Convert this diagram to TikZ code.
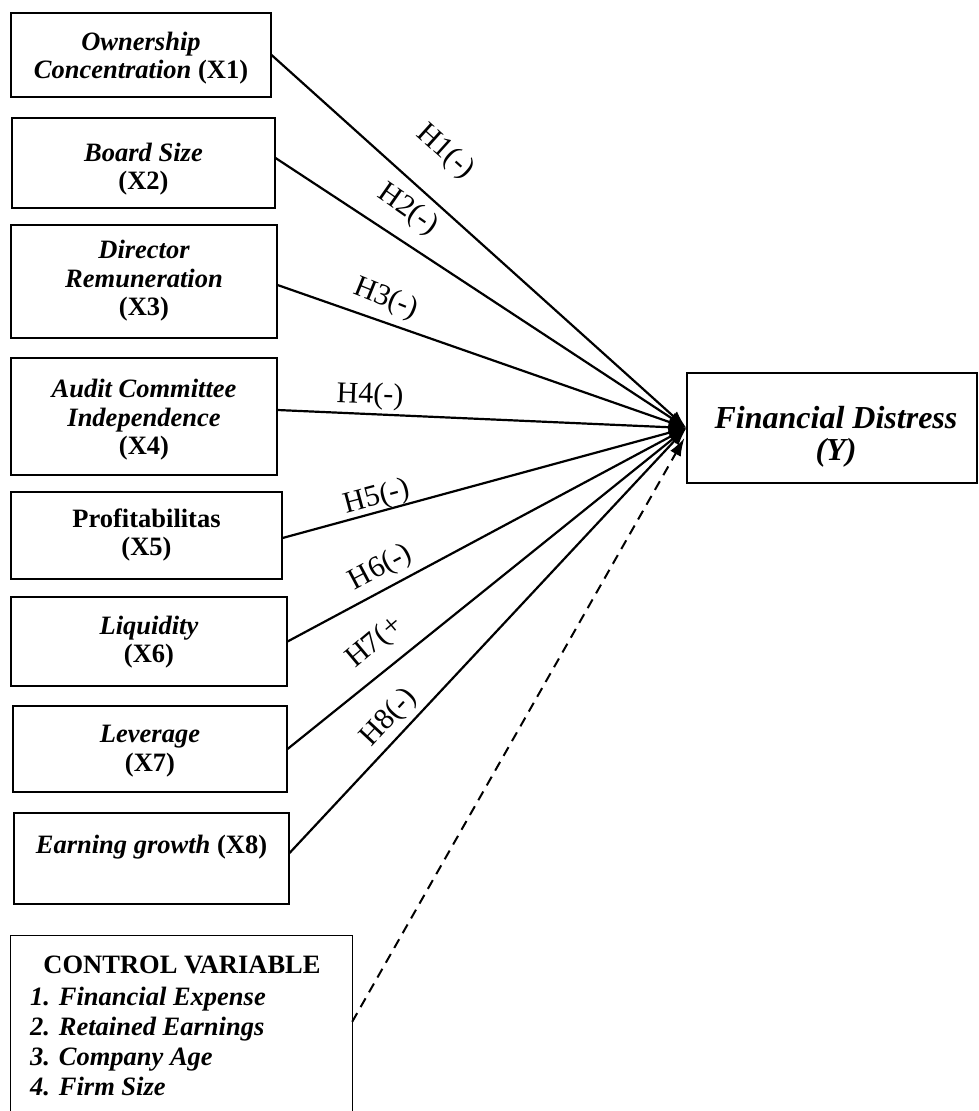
\documentclass[tikz,border=0pt]{standalone}
\usepackage{fontspec}
\setmainfont{Liberation Serif}
\usetikzlibrary{arrows.meta,calc}
\begin{document}
\begin{tikzpicture}[x=1pt,y=-1pt,
  box/.style={draw,line width=1.1pt,inner sep=0pt},
  txt/.style={font=\fontsize{26.5}{28.5}\selectfont\bfseries\itshape,align=center,inner sep=0pt},
  ytxt/.style={font=\fontsize{32}{32}\selectfont\bfseries\itshape,align=center,inner sep=0pt},
  hyp/.style={font=\fontsize{30}{30}\selectfont,inner sep=0pt},
  link/.style={line width=2.2pt,-{Latex[length=18pt,width=12pt]}},
  ctrl/.style={line width=2pt,dash pattern=on 10pt off 7pt,-{Latex[length=18pt,width=12pt]}}
]
\useasboundingbox (0,0) rectangle (978,1111);

% boxes
\node[box,minimum width=260pt,minimum height=84pt] (b1) at (141,55) {};
\node[box,minimum width=263pt,minimum height=90pt] (b2) at (143.5,163) {};
\node[box,minimum width=266pt,minimum height=113pt] (b3) at (144,281.5) {};
\node[box,minimum width=266pt,minimum height=117pt] (b4) at (144,416.5) {};
\node[box,minimum width=271pt,minimum height=87pt] (b5) at (146.5,535.5) {};
\node[box,minimum width=276pt,minimum height=89pt] (b6) at (149,641.5) {};
\node[box,minimum width=274pt,minimum height=86pt] (b7) at (150,749) {};
\node[box,minimum width=275pt,minimum height=91pt] (b8) at (151.5,858.5) {};
\node[inner sep=0pt,minimum width=341pt,minimum height=179pt] (cv) at (181.5,1025.5) {};
\draw[line width=1.1pt] (cv.south west) -- (cv.north west) -- (cv.north east) -- (cv.south east);
\node[box,minimum width=290pt,minimum height=110pt] (Y) at (832,428) {};

% box texts
\node[txt] (t1) at (141,58) {Ownership\\Concentration {\upshape(X1)}};
\node[txt] (t2) at (143.5,169) {Board Size\\{\upshape(X2)}};
\node[txt] (t3) at (144,281) {Director\\Remuneration\\{\upshape(X3)}};
\node[txt] (t4) at (144,420) {Audit Committee\\Independence\\{\upshape(X4)}};
\node[txt] (t5) at (146.5,535) {{\upshape Profitabilitas}\\{\upshape(X5)}};
\node[txt] (t6) at (149,642) {Liquidity\\{\upshape(X6)}};
\node[txt] (t7) at (150,751) {Leverage\\{\upshape(X7)}};
\node[txt] (t8) at (151.5,847) {Earning growth {\upshape(X8)}};
\node[ytxt] (ty) at (836,436.5) {Financial Distress\\(Y)};

% control variable texts
\node[txt,anchor=base] (c0) at (182,973) {\upshape CONTROL VARIABLE};
\node[txt,anchor=base west] (c1) at (30,1005) {1. Financial Expense};
\node[txt,anchor=base west] (c2) at (30,1035) {2. Retained Earnings};
\node[txt,anchor=base west] (c3) at (30,1065) {3. Company Age};
\node[txt,anchor=base west] (c4) at (30,1095) {4. Firm Size};

% connectors
\draw[link] (b1.east) -- (Y.west);
\draw[link] ($(b2.east)+(0,-5)$) -- (Y.west);
\draw[link] ($(b3.east)+(0,3.5)$) -- (Y.west);
\draw[link] ($(b4.east)+(0,-6.5)$) -- (Y.west);
\draw[link] ($(b5.east)+(0,2.5)$) -- (Y.west);
\draw[link] (b6.east) -- (Y.west);
\draw[link] (b7.east) -- (Y.west);
\draw[link] ($(b8.east)+(0,-5.5)$) -- (Y.west);
\draw[ctrl] ($(cv.north east)+(0,86)$) -- ($(Y.west)+(-2,10)$);

% hypothesis labels
\node[hyp,rotate=-42] (h1) at (445,152) {H1(-)};
\node[hyp,rotate=-35] (h2) at (408,210) {H2(-)};
\node[hyp,rotate=-22] (h3) at (386,299) {H3(-)};
\node[hyp,rotate=-2] (h4) at (370,396) {H4(-)};
\node[hyp,rotate=15] (h5) at (377,498) {H5(-)};
\node[hyp,rotate=28] (h6) at (381,568) {H6(-)};
\node[hyp,rotate=40] (h7) at (375,643) {H7(+};
\node[hyp,rotate=47] (h8) at (389,718) {H8(-)};
\end{tikzpicture}
\end{document}
